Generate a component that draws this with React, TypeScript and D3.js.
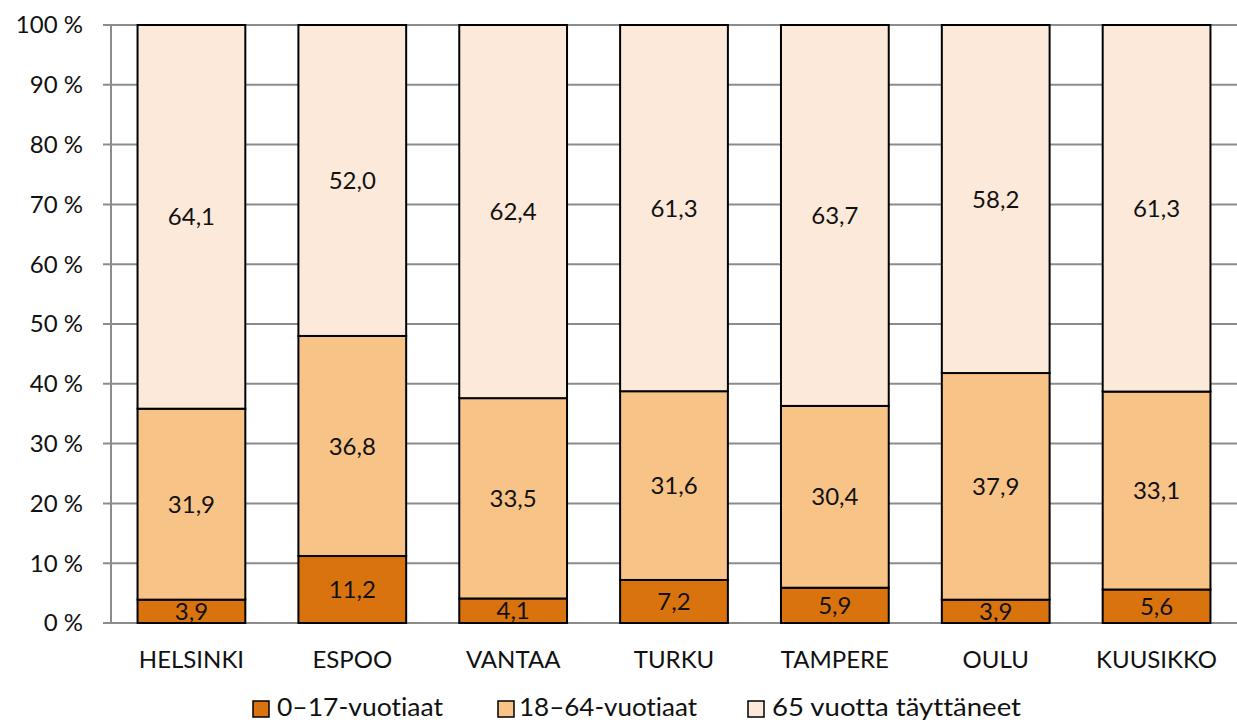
import React from "react";
import * as d3 from "d3";

const categories = ["HELSINKI", "ESPOO", "VANTAA", "TURKU", "TAMPERE", "OULU", "KUUSIKKO"];
const seriesNames = ["0–17-vuotiaat", "18–64-vuotiaat", "65 vuotta täyttäneet"];
const age0to17 = [3.9, 11.2, 4.1, 7.2, 5.9, 3.9, 5.6];
const age18to64 = [31.9, 36.8, 33.5, 31.6, 30.4, 37.9, 33.1];
const age65plus = [64.1, 52.0, 62.4, 61.3, 63.7, 58.2, 61.3];
const yTicks = [0, 10, 20, 30, 40, 50, 60, 70, 80, 90, 100];
const colors = ["#D9730D", "#F8C387", "#FDE9DA"];

const W = 1237;
const H = 722;
const margin = { left: 111, right: 0, top: 25, bottom: 99 };
const FONT = "Lato, 'Open Sans', sans-serif";

export default function App() {
  const series = [age0to17, age18to64, age65plus];
  const rows = categories.map((c, i) => {
    const vals = series.map((s) => s[i]);
    const total = d3.sum(vals);
    const r: any = { cat: c };
    seriesNames.forEach((n, k) => (r[n] = (vals[k] / total) * 100));
    return r;
  });
  const stacked = d3.stack<any>().keys(seriesNames)(rows);

  const x = d3
    .scaleBand<string>()
    .domain(categories)
    .range([margin.left, W - margin.right])
    .paddingInner(0.33)
    .paddingOuter(0.165);
  const y = d3.scaleLinear().domain([0, 100]).range([H - margin.bottom, margin.top]);

  const legendItems = [
    { sq: 253, tx: 277, len: 166 },
    { sq: 498, tx: 519, len: 178 },
    { sq: 748, tx: 772, len: 249 },
  ];

  return (
    <svg
      width={W}
      height={H}
      style={{ position: "absolute", left: 0, top: 0, background: "#fff", fontVariantLigatures: "none" }}
      fontFamily={FONT}
    >
      {/* gridlines */}
      {yTicks.map((t) => (
        <line
          key={"g" + t}
          x1={margin.left - 8}
          x2={W - margin.right}
          y1={y(t)}
          y2={y(t)}
          stroke="#8C8C8C"
          strokeWidth={2}
        />
      ))}
      <line x1={margin.left} x2={margin.left} y1={y(100)} y2={y(0)} stroke="#8C8C8C" strokeWidth={2} />
      {yTicks.map((t) => (
        <text
          key={"t" + t}
          x={83}
          y={y(t)}
          dy="0.35em"
          textAnchor="end"
          fontSize={24}
          fill="#111"
        >
          {t} %
        </text>
      ))}
      {/* bars */}
      {stacked.map((layer, k) =>
        layer.map((d, i) => (
          <rect
            key={k + "-" + i}
            x={x(categories[i])!}
            width={x.bandwidth()}
            y={y(d[1])}
            height={y(d[0]) - y(d[1])}
            fill={colors[k]}
            stroke="#000"
            strokeWidth={2}
          />
        ))
      )}
      {/* value labels */}
      {stacked.map((layer, k) =>
        layer.map((d, i) => (
          <text
            key={"v" + k + "-" + i}
            x={x(categories[i])! + x.bandwidth() / 2}
            y={(y(d[0]) + y(d[1])) / 2}
            dy="0.36em"
            textAnchor="middle"
            fontSize={24}
            fill="#111"
          >
            {series[k][i].toFixed(1).replace(".", ",")}
          </text>
        ))
      )}
      {/* category labels */}
      {categories.map((c) => (
        <text
          key={"c" + c}
          x={x(c)! + x.bandwidth() / 2}
          y={660}
          dy="0.35em"
          textAnchor="middle"
          fontSize={24}
          fill="#111"
        >
          {c}
        </text>
      ))}
      {/* legend */}
      {seriesNames.map((n, k) => (
        <g key={"l" + k}>
          <rect
            x={legendItems[k].sq}
            y={701}
            width={16}
            height={16}
            fill={colors[k]}
            stroke="#000"
            strokeWidth={1.5}
          />
          <text
            x={legendItems[k].tx}
            y={716}
            fontSize={25.5}
            fill="#111"
            textLength={legendItems[k].len}
            lengthAdjust="spacingAndGlyphs"
          >
            {n}
          </text>
        </g>
      ))}
    </svg>
  );
}
